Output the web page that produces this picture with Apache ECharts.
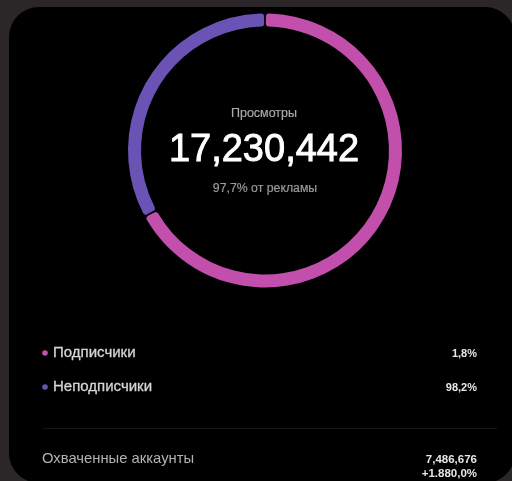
<!DOCTYPE html>
<html>
<head>
<meta charset="utf-8">
<script src="https://cdn.jsdelivr.net/npm/echarts@6/dist/echarts.min.js"></script>
<style>
html,body{margin:0;padding:0;background:#2b2728;}
#c{width:512px;height:481px;}
</style>
</head>
<body>
<div id="c"></div>
<script>
// Data
var categories = ['Подписчики', 'Неподписчики'];
var ringValues = [67, 33];           // arc shares as drawn in the ring
var shareLabels = ['1,8%', '98,2%']; // percentages printed in the legend
var colors = ['#c34fad', '#6b53b6'];
var centerTitle = 'Просмотры';
var centerValue = '17,230,442';
var centerSub = '97,7% от рекламы';
var footerLabel = 'Охваченные аккаунты';
var footerValues = ['7,486,676', '+1.880,0%'];

var FONT = '"Liberation Sans", Arial, Helvetica, sans-serif';
var chart = echarts.init(document.getElementById('c'), null, {renderer: 'canvas'});

var graphics = [
  {type: 'rect', z: -10, shape: {x: 9, y: 7, width: 506, height: 476, r: 30}, style: {fill: '#000000'}},
  {type: 'text', x: 264, y: 114, style: {text: centerTitle, fill: '#a9a9a9', font: '12.5px ' + FONT, align: 'center', verticalAlign: 'middle', stroke: '#a9a9a9', lineWidth: 0.2}},
  {type: 'text', x: 264, y: 151, style: {text: centerValue, fill: '#ffffff', font: '38px ' + FONT, align: 'center', verticalAlign: 'middle', stroke: '#ffffff', lineWidth: 0.9}},
  {type: 'text', x: 265, y: 189, style: {text: centerSub, fill: '#9a9a9a', font: '12.3px ' + FONT, align: 'center', verticalAlign: 'middle', stroke: '#9a9a9a', lineWidth: 0.2}},
  {type: 'line', shape: {x1: 43, y1: 428.5, x2: 497, y2: 428.5}, style: {stroke: '#161616', lineWidth: 1}},
  {type: 'text', x: 42, y: 459, style: {text: footerLabel, fill: '#b3b3b3', font: '14.8px ' + FONT, align: 'left', verticalAlign: 'middle'}},
  {type: 'text', x: 477, y: 460, style: {text: footerValues[0], fill: '#e6e6e6', font: 'bold 11.5px ' + FONT, align: 'right', verticalAlign: 'middle'}},
  {type: 'text', x: 477, y: 474, style: {text: footerValues[1], fill: '#e6e6e6', font: 'bold 11.5px ' + FONT, align: 'right', verticalAlign: 'middle'}}
];
var legendY = [353, 387];
categories.forEach(function (name, i) {
  graphics.push({type: 'circle', shape: {cx: 45, cy: legendY[i], r: 2.8}, style: {fill: colors[i]}});
  graphics.push({type: 'text', x: 53, y: legendY[i], style: {text: name, fill: '#d6d6d6', font: '15px ' + FONT, align: 'left', verticalAlign: 'middle', stroke: '#d6d6d6', lineWidth: 0.3}});
  graphics.push({type: 'text', x: 477, y: legendY[i] + 1, style: {text: shareLabels[i], fill: '#e8e8e8', font: 'bold 11px ' + FONT, align: 'right', verticalAlign: 'middle'}});
});

chart.setOption({
  backgroundColor: '#2b2728',
  animation: false,
  color: colors,
  graphic: graphics,
  series: [{
    type: 'pie',
    center: [265, 150.5],
    radius: [124, 137],
    startAngle: 90,
    clockwise: true,
    padAngle: 0.8,
    label: {show: false},
    labelLine: {show: false},
    emphasis: {disabled: true},
    itemStyle: {borderRadius: 3},
    data: categories.map(function (n, i) { return {name: n, value: ringValues[i]}; })
  }]
});
</script>
</body>
</html>
